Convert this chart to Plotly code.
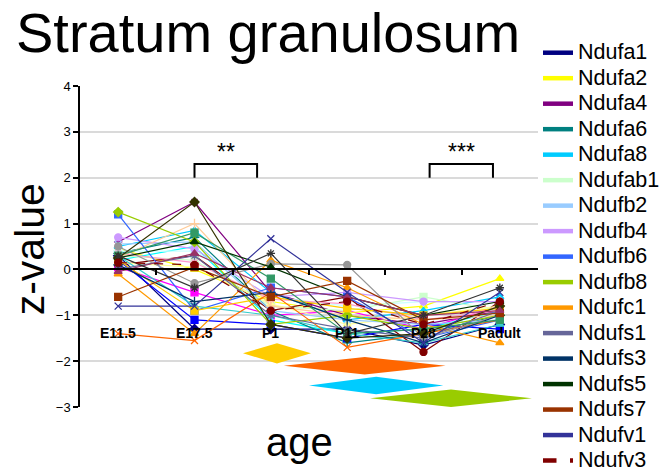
import plotly.graph_objects as go

ages = ["E11.5", "E17.5", "P1", "P11", "P28", "Padult"]

genes = ["Ndufa1", "Ndufa10", "Ndufa2", "Ndufa3", "Ndufa4", "Ndufa5", "Ndufa6", "Ndufa7",
         "Ndufa8", "Ndufa9", "Ndufab1", "Ndufb10", "Ndufb2", "Ndufb3", "Ndufb4", "Ndufb5",
         "Ndufb6", "Ndufb7", "Ndufb8", "Ndufb9", "Ndufc1", "Ndufc2", "Ndufs1", "Ndufs2",
         "Ndufs3", "Ndufs4", "Ndufs5", "Ndufs6", "Ndufs7", "Ndufs8", "Ndufv1", "Ndufv2", "Ndufv3"]

ndufa1 = [0.30, -1.30, -1.30, -1.30, -1.65, -1.20]
ndufa10 = [0.05, -0.50, -1.00, -0.90, -1.30, -0.80]
ndufa2 = [0.45, 0.00, -0.70, -0.95, -0.80, -0.20]
ndufa3 = [0.20, 0.50, -1.10, -1.40, -1.30, -0.90]
ndufa4 = [0.60, 1.47, -0.50, -1.00, -1.20, -0.90]
ndufa5 = [0.10, 0.30, -0.90, -0.60, -1.80, -0.70]
ndufa6 = [0.35, 0.70, -0.90, -1.60, -1.40, -1.00]
ndufa7 = [0.20, -1.10, -1.20, -1.50, -1.20, -1.30]
ndufa8 = [0.50, 0.85, -0.50, -1.10, -0.90, -0.60]
ndufa9 = [0.40, 0.40, -0.60, -0.80, -0.70, -0.70]
ndufab1 = [0.30, 0.20, -0.80, -0.90, -0.60, -0.90]
ndufb10 = [0.15, 0.05, -0.75, -1.20, -1.00, -0.80]
ndufb2 = [0.55, 0.60, -0.90, -1.10, -1.20, -1.10]
ndufb3 = [0.35, 0.15, -0.65, -0.75, -1.10, -0.90]
ndufb4 = [0.70, 0.45, -0.60, -0.50, -0.70, -0.70]
ndufb5 = [0.25, 1.00, -0.80, -1.00, -1.10, -1.00]
ndufb6 = [1.20, -0.90, -0.40, -0.60, -1.50, -1.10]
ndufb7 = [0.30, -0.80, -1.00, -1.40, -1.60, -1.20]
ndufb8 = [1.25, 0.60, -1.20, -1.00, -1.30, -1.00]
ndufb9 = [0.20, -0.90, -0.60, -0.85, -1.00, -0.85]
ndufc1 = [-0.10, -1.40, 0.20, -0.40, -1.20, -1.60]
ndufc2 = [-1.40, -1.55, -0.50, -1.70, -1.40, -1.10]
ndufs1 = [0.00, 0.30, -1.00, -1.30, -1.50, -0.90]
ndufs2 = [0.50, -0.30, 0.12, 0.10, -1.50, -1.00]
ndufs3 = [0.10, -0.70, -0.50, -1.10, -1.60, -1.00]
ndufs4 = [0.30, 0.80, -0.20, -1.40, -1.30, -1.10]
ndufs5 = [0.25, 0.60, 0.05, -0.60, -1.00, -0.70]
ndufs6 = [0.25, 1.47, -1.20, -1.50, -1.40, -0.80]
ndufs7 = [-0.60, 0.05, -0.60, -0.25, -1.10, -0.95]
ndufs8 = [-0.05, 0.35, -0.40, -0.60, -1.00, -0.90]
ndufv1 = [-0.80, -0.80, 0.67, -0.50, -1.60, -0.50]
ndufv2 = [0.30, -0.40, 0.35, -1.40, -1.00, -0.40]
ndufv3 = [0.15, 0.10, -0.90, -0.70, -1.20, -0.70]

values = [ndufa1, ndufa10, ndufa2, ndufa3, ndufa4, ndufa5, ndufa6, ndufa7, ndufa8, ndufa9,
          ndufab1, ndufb10, ndufb2, ndufb3, ndufb4, ndufb5, ndufb6, ndufb7, ndufb8, ndufb9,
          ndufc1, ndufc2, ndufs1, ndufs2, ndufs3, ndufs4, ndufs5, ndufs6, ndufs7, ndufs8,
          ndufv1, ndufv2, ndufv3]

legend_genes = genes[::2]

colors = ["#000080", "#FF00FF", "#FFFF00", "#00FFFF", "#800080", "#800000", "#008080", "#0000FF",
          "#00CCFF", "#CCFFFF", "#CCFFCC", "#FFFF99", "#99CCFF", "#FF99CC", "#CC99FF", "#FFCC99",
          "#3366FF", "#33CCCC", "#99CC00", "#FFCC00", "#FF9900", "#FF6600", "#666699", "#969696",
          "#003366", "#339966", "#003300", "#333300", "#993300", "#993366", "#333399", "#333333",
          "#800000"]
symbols = ["diamond", "square", "triangle-up", "x-thin", "asterisk", "circle", "cross-thin",
           "square", "triangle-up"]

# significance brackets and developmental-window diamonds (layout decorations)
brackets = [(1.0, 1.82, 2.0, 2.3, "**"), (4.08, 4.91, 2.0, 2.3, "***")]
diamonds = [(1.635, 2.526, -1.83, 0.22, "#FFCC00"),
            (2.17, 4.29, -2.10, 0.19, "#FF6600"),
            (2.50, 4.26, -2.53, 0.19, "#00CCFF"),
            (3.30, 5.42, -2.81, 0.19, "#99CC00")]

FONT = "Liberation Sans, Arial, sans-serif"
xpos = list(range(len(ages)))

fig = go.Figure()
for i, (g, v) in enumerate(zip(genes, values)):
    sym = symbols[i % len(symbols)]
    col = colors[i]
    fig.add_trace(go.Scatter(
        x=xpos, y=v, mode="lines+markers", name=g, showlegend=False,
        line=dict(color=col, width=1.2, dash="dash" if g == "Ndufv3" else "solid"),
        marker=dict(symbol=sym, size=7, color=col, line=dict(color=col, width=1.3)),
    ))

for g in legend_genes:
    col = colors[genes.index(g)]
    fig.add_trace(go.Scatter(
        x=[None], y=[None], mode="lines",
        name='<span style="font-size:21.5px">' + g + '</span>',
        line=dict(color=col, width=4.5, dash="dash" if g == "Ndufv3" else "solid"),
    ))

shapes = []
annotations = []
for x0, x1, y0, y1, txt in brackets:
    shapes.append(dict(type="path", xref="x", yref="y",
                       path=f"M{x0},{y0} L{x0},{y1} L{x1},{y1} L{x1},{y0}",
                       line=dict(color="black", width=2)))
    annotations.append(dict(x=(x0 + x1) / 2, y=y1 + 0.27, xref="x", yref="y", text=txt,
                            showarrow=False, font=dict(size=23, color="black", family=FONT)))
for x0, x1, yc, h, col in diamonds:
    xc = (x0 + x1) / 2
    shapes.append(dict(type="path", xref="x", yref="y",
                       path=f"M{x0},{yc} L{xc},{yc + h} L{x1},{yc} L{xc},{yc - h} Z",
                       fillcolor=col, line=dict(width=0), layer="above"))

for i, a in enumerate(ages):
    annotations.append(dict(x=i, y=-1.39, xref="x", yref="y", text="<b>" + a + "</b>",
                            showarrow=False, font=dict(size=14, color="black", family=FONT)))

annotations.append(dict(x=0.41, y=1.168, xref="paper", yref="paper", text="Stratum granulosum",
                        showarrow=False, xanchor="center", yanchor="middle",
                        font=dict(size=56, color="black", family=FONT)))
annotations.append(dict(x=0.48, y=-0.11, xref="paper", yref="paper", text="age",
                        showarrow=False, xanchor="center", yanchor="middle",
                        font=dict(size=40, color="black", family=FONT)))
annotations.append(dict(x=-0.11, y=0.49, xref="paper", yref="paper", text="z-value",
                        showarrow=False, textangle=-90, xanchor="center", yanchor="middle",
                        font=dict(size=41, color="black", family=FONT)))

fig.update_layout(
    width=667, height=471,
    margin=dict(l=80, r=129, t=86, b=64, autoexpand=False),
    paper_bgcolor="white", plot_bgcolor="white",
    font=dict(family=FONT, color="black"),
    shapes=shapes, annotations=annotations,
    legend=dict(x=1.0, xanchor="left", y=1.159, yanchor="top", maxheight=2000,
                font=dict(size=17.3, color="black", family=FONT),
                bgcolor="rgba(0,0,0,0)", borderwidth=0, tracegroupgap=0),
    xaxis=dict(range=[-0.5, 5.5], showgrid=False, zeroline=False, showline=True,
               linecolor="black", linewidth=1.5, anchor="free", position=3 / 7,
               ticks="outside", tickvals=[0.5, 1.5, 2.5, 3.5, 4.5], ticklen=5,
               tickcolor="black", tickwidth=1.5, showticklabels=False),
    yaxis=dict(range=[-3, 4], tickvals=list(range(-3, 5)), showgrid=True,
               gridcolor="#dadada", gridwidth=1.5, zeroline=False, showline=True,
               linecolor="black", linewidth=1.5, ticks="outside", ticklen=5,
               tickcolor="black", tickwidth=1.5, tickfont=dict(size=13, family=FONT)),
)

fig.write_html("out.html")
